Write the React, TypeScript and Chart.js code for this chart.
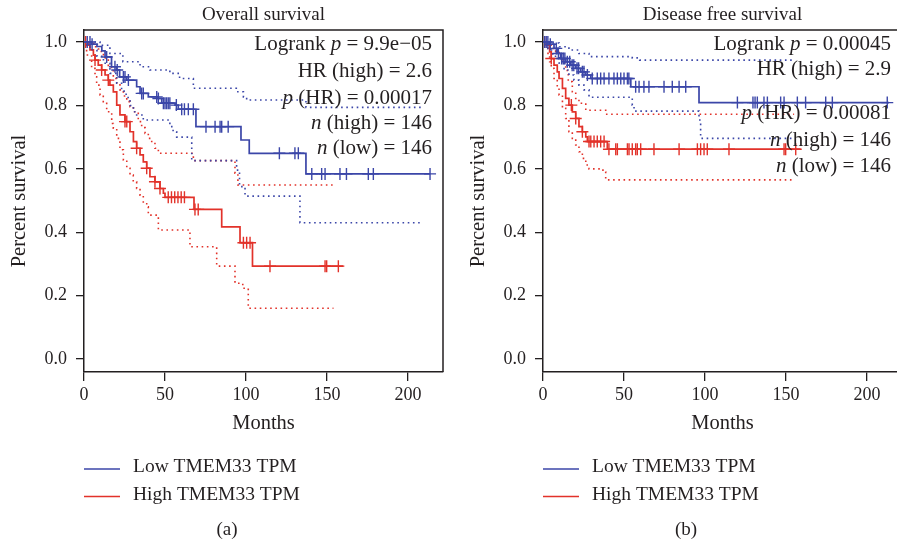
import React, { useEffect, useRef } from "react";
import { Chart, registerables } from "chart.js";

Chart.register(...registerables);

// ---------- Data ----------
const xTicks = [0, 50, 100, 150, 200];
const yTicks = [0, 0.2, 0.4, 0.6, 0.8, 1.0];
const legendLabels = ["Low TMEM33 TPM", "High TMEM33 TPM"];

// Overall survival (a)
const osLowT = [0, 4.5, 8, 11, 13, 17, 20, 22, 26.4, 32.5, 34.6, 39.7, 45.9, 48, 56.2, 58.2, 69.1, 96.9, 102, 137, 213.6];
const osLowS = [1, 0.993, 0.986, 0.972, 0.953, 0.922, 0.912, 0.89, 0.88, 0.859, 0.838, 0.827, 0.822, 0.807, 0.801, 0.788, 0.733, 0.691, 0.649, 0.584, 0.584];
const osLowCensor = [2, 3.7, 5, 14, 19.1, 20.5, 24.3, 25.3, 27.4, 35.6, 36.6, 44.9, 45.9, 49, 50, 51, 52, 53, 57, 60.3, 62, 64.4, 67.5, 75.3, 80.9, 84, 85, 89, 120.6, 130.2, 132.3, 140.6, 146.7, 148.8, 158, 162, 175.5, 178.6, 213.6];
const osLowUpperT = [0, 9.9, 16, 24, 34.6, 40.7, 53, 59, 67.5, 94, 98.4, 100.4, 137, 209];
const osLowUpperS = [1, 0.99, 0.964, 0.938, 0.922, 0.912, 0.901, 0.885, 0.854, 0.843, 0.827, 0.817, 0.794, 0.794];
const osLowLowerT = [0, 3.7, 8, 12, 16, 20.2, 23.2, 26, 28.4, 30.5, 32.5, 36.6, 53, 55, 57.2, 66.5, 94.2, 96, 99.4, 133.3, 209];
const osLowLowerS = [1, 0.975, 0.955, 0.933, 0.901, 0.87, 0.845, 0.825, 0.8, 0.78, 0.77, 0.754, 0.733, 0.717, 0.7, 0.626, 0.596, 0.544, 0.514, 0.43, 0.43];

const osHighT = [0, 2, 3.7, 5.8, 6.8, 8.8, 10.9, 13, 15, 16, 18.1, 20.2, 22.2, 25.3, 28.4, 30.5, 32.5, 34.6, 36.6, 38.7, 40.7, 43.8, 46.9, 49, 50, 67.9, 85, 96.3, 104, 160];
const osHighS = [1, 0.99, 0.975, 0.959, 0.943, 0.927, 0.912, 0.896, 0.88, 0.864, 0.843, 0.801, 0.77, 0.749, 0.717, 0.686, 0.665, 0.644, 0.622, 0.602, 0.575, 0.559, 0.538, 0.523, 0.51, 0.472, 0.417, 0.367, 0.293, 0.293];
const osHighCensor = [1, 6.8, 10.9, 15, 25.3, 26.4, 32.5, 38.7, 43.8, 46.9, 52, 54, 56, 58, 60, 62, 68.5, 70.5, 98.4, 100.4, 102.5, 114.8, 148.8, 149.8, 157];
const osHighUpperT = [0, 3, 6, 9, 12, 15, 18.1, 20.2, 22.2, 24.3, 26.4, 28.4, 30.5, 33.5, 35.6, 37.7, 39.7, 41.8, 43.8, 45.9, 67.5, 93.2, 95, 154];
const osHighUpperS = [1, 0.995, 0.985, 0.97, 0.95, 0.92, 0.885, 0.865, 0.849, 0.83, 0.812, 0.796, 0.78, 0.749, 0.73, 0.712, 0.696, 0.68, 0.665, 0.649, 0.626, 0.586, 0.549, 0.549];
const osHighLowerT = [0, 1.6, 4.7, 6.8, 7.8, 9.9, 11.9, 14, 17.1, 18.1, 20.2, 22.2, 24.3, 26.4, 28.4, 30.4, 32.5, 34.6, 36.6, 38.7, 39.7, 45.9, 65.4, 81.9, 93.2, 98, 101.4, 154];
const osHighLowerS = [1, 0.959, 0.917, 0.89, 0.864, 0.833, 0.812, 0.78, 0.743, 0.728, 0.696, 0.66, 0.628, 0.602, 0.58, 0.559, 0.538, 0.517, 0.49, 0.48, 0.454, 0.407, 0.354, 0.293, 0.239, 0.223, 0.16, 0.16];

// Disease free survival (b)
const dfsLowT = [0, 4, 6.8, 8.8, 10.9, 14, 17.1, 20.2, 23.3, 26.4, 29.5, 54.2, 96.3, 213.6];
const dfsLowS = [1, 0.993, 0.98, 0.964, 0.948, 0.938, 0.927, 0.917, 0.906, 0.896, 0.885, 0.859, 0.809, 0.809];
const dfsLowCensor = [1, 2, 3, 4.5, 8.2, 9.5, 11.5, 12.5, 13.5, 15, 16.5, 18, 19, 21, 22, 24.3, 25.3, 27.4, 30.4, 33.5, 35.6, 37.7, 40.7, 43.8, 45.9, 48, 50, 52.1, 53, 57.2, 59.3, 62.3, 65.4, 74.7, 79.8, 84, 88.1, 120, 129.6, 130.9, 132.3, 136.4, 138.5, 146.7, 148.8, 157, 162.1, 174.5, 178.6, 212.5];
const dfsLowUpperT = [0, 4, 10, 16, 22.2, 28.4, 55.1, 59.7, 154];
const dfsLowUpperS = [1, 0.997, 0.985, 0.975, 0.964, 0.954, 0.95, 0.943, 0.943];
const dfsLowLowerT = [0, 3, 6, 10, 13, 16, 19.1, 22.2, 25.3, 28.4, 55.1, 56.2, 96.3, 97.3, 154];
const dfsLowLowerS = [1, 0.975, 0.955, 0.933, 0.912, 0.896, 0.88, 0.864, 0.849, 0.826, 0.801, 0.782, 0.754, 0.696, 0.696];

const dfsHighT = [0, 2, 4.1, 5.1, 6.8, 8.8, 9.9, 12, 14, 16, 18.1, 20.2, 22.2, 24.3, 26.4, 27.4, 39.7, 159];
const dfsHighS = [1, 0.99, 0.969, 0.948, 0.927, 0.906, 0.885, 0.854, 0.822, 0.801, 0.78, 0.759, 0.733, 0.717, 0.701, 0.686, 0.662, 0.662];
const dfsHighCensor = [1, 5.1, 17.5, 20.2, 24.3, 28.4, 29.5, 31.5, 33.5, 35.6, 37.7, 40.7, 44.9, 45.9, 52.1, 53.1, 55.1, 57.2, 58.2, 60.3, 68.5, 84, 95.3, 97.3, 99.4, 101.4, 114.8, 148.8, 149.8, 156];
const dfsHighUpperT = [0, 3, 5.8, 7.8, 10, 12, 14, 15.6, 18.1, 20.2, 22.2, 26.4, 38.7, 155];
const dfsHighUpperS = [1, 0.99, 0.98, 0.97, 0.955, 0.935, 0.91, 0.875, 0.843, 0.822, 0.807, 0.785, 0.772, 0.772];
const dfsHighLowerT = [0, 2, 3.1, 4.1, 5.1, 6.8, 8.8, 9.9, 12, 14, 16, 18.1, 20.2, 22.2, 24.3, 26.4, 28.4, 37, 38.7, 155];
const dfsHighLowerS = [1, 0.98, 0.959, 0.938, 0.917, 0.885, 0.854, 0.833, 0.791, 0.759, 0.717, 0.696, 0.675, 0.654, 0.633, 0.612, 0.6, 0.59, 0.565, 0.565];

// Annotation texts: [text, italic]
const osStats: [string, boolean][][] = [
  [["Logrank ", false], ["p", true], [" = 9.9e\u221205", false]],
  [["HR (high) = 2.6", false]],
  [["p", true], [" (HR) = 0.00017", false]],
  [["n", true], [" (high) = 146", false]],
  [["n", true], [" (low) = 146", false]],
];
const dfsStats: [string, boolean][][] = [
  [["Logrank ", false], ["p", true], [" = 0.00045", false]],
  [["HR (high) = 2.9", false]],
  [["p", true], [" (HR) = 0.00081", false]],
  [["n", true], [" (high) = 146", false]],
  [["n", true], [" (low) = 146", false]],
];

// ---------- Style / layout ----------
const BLUE = "#3b46a8";
const RED = "#e2322a";
const INK = "#231f20";
const FONT = "'Liberation Serif', 'Times New Roman', serif";
const X_MAX = 221.6;
const Y_MIN = -0.041;
const Y_MAX = 1.038;
const CW = 460;
const CH = 550;

function stepAt(T: number[], S: number[], t: number) {
  let v = S[0];
  for (let i = 0; i < T.length; i++) {
    if (T[i] <= t) v = S[i];
    else break;
  }
  return v;
}
const pts = (T: number[], S: number[]) => T.map((t, i) => ({ x: t, y: S[i] }));
const cens = (T: number[], S: number[], C: number[]) => C.map((t) => ({ x: t, y: stepAt(T, S, t) }));

type PanelCfg = {
  title: string;
  label: string;
  stats: [string, boolean][][];
  statY: number[];
  low: [number[], number[], number[]];
  high: [number[], number[], number[]];
  lowCI: [number[], number[], number[], number[]];
  highCI: [number[], number[], number[], number[]];
};

const panels: PanelCfg[] = [
  {
    title: "Overall survival",
    label: "(a)",
    stats: osStats,
    statY: [0.991, 0.907, 0.823, 0.744, 0.665],
    low: [osLowT, osLowS, osLowCensor],
    high: [osHighT, osHighS, osHighCensor],
    lowCI: [osLowUpperT, osLowUpperS, osLowLowerT, osLowLowerS],
    highCI: [osHighUpperT, osHighUpperS, osHighLowerT, osHighLowerS],
  },
  {
    title: "Disease free survival",
    label: "(b)",
    stats: dfsStats,
    statY: [0.991, 0.912, 0.775, 0.691, 0.607],
    low: [dfsLowT, dfsLowS, dfsLowCensor],
    high: [dfsHighT, dfsHighS, dfsHighCensor],
    lowCI: [dfsLowUpperT, dfsLowUpperS, dfsLowLowerT, dfsLowLowerS],
    highCI: [dfsHighUpperT, dfsHighUpperS, dfsHighLowerT, dfsHighLowerS],
  },
];

function lineDs(data: any[], color: string) {
  return { type: "line", data, borderColor: color, borderWidth: 1.7, pointRadius: 0, stepped: true, fill: false, tension: 0 };
}
function ciDs(data: any[], color: string) {
  return { type: "line", data, borderColor: color, borderWidth: 1.6, borderDash: [1.6, 3.6], pointRadius: 0, stepped: true, fill: false, tension: 0 };
}
function censDs(data: any[], color: string) {
  return { type: "line", data, showLine: false, borderColor: color, pointStyle: "cross", pointRadius: 6, pointBorderWidth: 1.4, pointBorderColor: color, pointBackgroundColor: color };
}

function makeOverlay(cfg: PanelCfg) {
  return {
    id: "overlay",
    afterDraw(chart: any) {
      const { ctx, chartArea: a, scales } = chart;
      const xs = scales.x;
      const ys = scales.y;
      ctx.save();
      // frame top & right
      ctx.strokeStyle = INK;
      ctx.lineWidth = 1.5;
      ctx.beginPath();
      ctx.moveTo(a.left, a.top);
      ctx.lineTo(a.right, a.top);
      ctx.lineTo(a.right, a.bottom);
      ctx.stroke();

      ctx.fillStyle = INK;
      const cx = (a.left + a.right) / 2;
      // title
      ctx.font = `19px ${FONT}`;
      ctx.textAlign = "center";
      ctx.textBaseline = "middle";
      ctx.fillText(cfg.title, cx, a.top - 15);
      // x title
      ctx.font = `20.5px ${FONT}`;
      ctx.fillText("Months", cx, a.bottom + 52);
      // y title
      ctx.save();
      ctx.translate(20, (a.top + a.bottom) / 2);
      ctx.rotate(-Math.PI / 2);
      ctx.fillText("Percent survival", 0, 0);
      ctx.restore();
      // panel label
      ctx.font = `19px ${FONT}`;
      ctx.fillText(cfg.label, 227, a.bottom + 158);

      // stats (right aligned)
      const size = 21;
      const xr = xs.getPixelForValue(214.8);
      cfg.stats.forEach((segs, i) => {
        const y = ys.getPixelForValue(cfg.statY[i]);
        let total = 0;
        const widths = segs.map(([t, it]) => {
          ctx.font = `${it ? "italic " : ""}${size}px ${FONT}`;
          const w = ctx.measureText(t).width;
          total += w;
          return w;
        });
        let x = xr - total;
        ctx.textAlign = "left";
        segs.forEach(([t, it], j) => {
          ctx.font = `${it ? "italic " : ""}${size}px ${FONT}`;
          ctx.fillText(t, x, y);
          x += widths[j];
        });
      });

      // legend
      const colors = [BLUE, RED];
      ctx.font = `19.5px ${FONT}`;
      ctx.textAlign = "left";
      legendLabels.forEach((lab, i) => {
        const y = a.bottom + 97 + i * 27.5;
        ctx.strokeStyle = colors[i];
        ctx.lineWidth = 1.5;
        ctx.beginPath();
        ctx.moveTo(a.left, y);
        ctx.lineTo(a.left + 36, y);
        ctx.stroke();
        ctx.fillStyle = INK;
        ctx.fillText(lab, a.left + 49, y - 2);
      });
      ctx.restore();
    },
  };
}

function Panel({ cfg, left }: { cfg: PanelCfg; left: number }) {
  const ref = useRef<HTMLCanvasElement | null>(null);
  useEffect(() => {
    if (!ref.current) return;
    const [lT, lS, lC] = cfg.low;
    const [hT, hS, hC] = cfg.high;
    const [luT, luS, llT, llS] = cfg.lowCI;
    const [huT, huS, hlT, hlS] = cfg.highCI;
    const datasets: any[] = [
      censDs(cens(lT, lS, lC), BLUE),
      censDs(cens(hT, hS, hC), RED),
      lineDs(pts(lT, lS), BLUE),
      lineDs(pts(hT, hS), RED),
      ciDs(pts(luT, luS), BLUE),
      ciDs(pts(llT, llS), BLUE),
      ciDs(pts(huT, huS), RED),
      ciDs(pts(hlT, hlS), RED),
    ];
    const tickFont = { family: FONT, size: 18 };
    const chart = new Chart(ref.current, {
      type: "line",
      data: { datasets },
      options: {
        animation: false,
        responsive: false,
        maintainAspectRatio: false,
        events: [],
        layout: { padding: { left: 0, top: 30, right: 17, bottom: 0 } },
        plugins: { legend: { display: false }, title: { display: false }, tooltip: { enabled: false } },
        scales: {
          x: {
            type: "linear",
            min: 0,
            max: X_MAX,
            afterFit: (s: any) => { s.height = CH - 372; },
            afterBuildTicks: (s: any) => { s.ticks = xTicks.map((v) => ({ value: v })); },
            grid: { display: true, drawOnChartArea: false, drawTicks: true, tickLength: 9, color: INK, lineWidth: 1.3 },
            border: { display: true, color: INK, width: 1.5 },
            ticks: { color: INK, font: tickFont, padding: 3, maxRotation: 0, autoSkip: false, callback: (v: any) => String(v) },
          },
          y: {
            type: "linear",
            min: Y_MIN,
            max: Y_MAX,
            afterFit: (s: any) => { s.width = 84; },
            afterBuildTicks: (s: any) => { s.ticks = yTicks.map((v) => ({ value: v })); },
            grid: { display: true, drawOnChartArea: false, drawTicks: true, tickLength: 8, color: INK, lineWidth: 1.3 },
            border: { display: true, color: INK, width: 1.5 },
            ticks: { color: INK, font: tickFont, padding: 9, autoSkip: false, callback: (v: any) => Number(v).toFixed(1) },
          },
        },
      } as any,
      plugins: [makeOverlay(cfg)],
    } as any);
    return () => chart.destroy();
  }, [cfg]);
  return (
    <canvas
      ref={ref}
      width={CW}
      height={CH}
      style={{ position: "absolute", left, top: 0, width: CW, height: CH }}
    />
  );
}

export default function App() {
  return (
    <div style={{ position: "absolute", left: 0, top: 0, width: 897, height: 550, overflow: "hidden", background: "#fff" }}>
      <Panel cfg={panels[0]} left={0} />
      <Panel cfg={panels[1]} left={459} />
    </div>
  );
}
